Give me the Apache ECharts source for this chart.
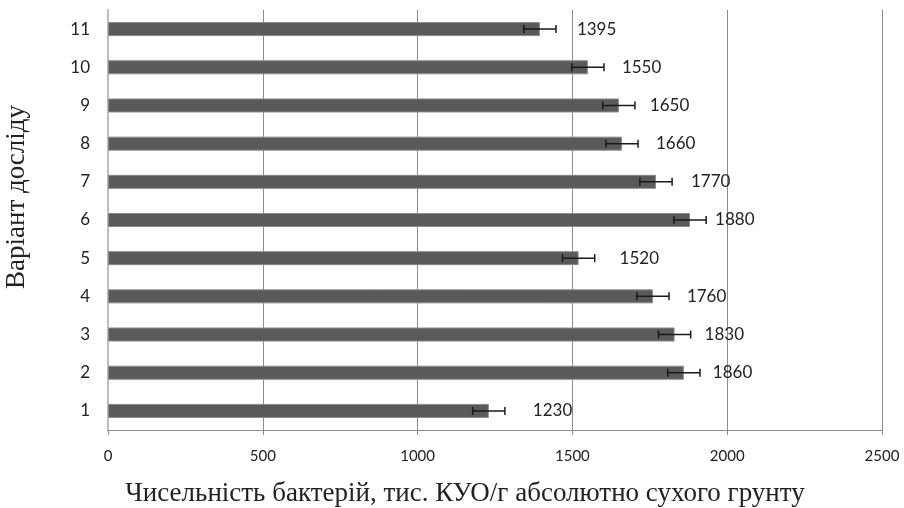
<!DOCTYPE html>
<html>
<head>
<meta charset="utf-8">
<script src="https://cdn.jsdelivr.net/npm/echarts@6/dist/echarts.min.js"></script>
<style>
  html, body { margin: 0; padding: 0; background: #fff; }
  #chart { width: 904px; height: 508px; }
</style>
</head>
<body>
<div id="chart"></div>
<script>
// Варіанти досліду (знизу вгору)
const variants = ['1', '2', '3', '4', '5', '6', '7', '8', '9', '10', '11'];
// Чисельність бактерій, тис. КУО/г
const counts = [1230, 1860, 1830, 1760, 1520, 1880, 1770, 1660, 1650, 1550, 1395];
// Похибка (±)
const errors = [52, 52, 52, 52, 52, 52, 52, 52, 52, 52, 52];
// Відступ підписів від кінця смуги, px
const labelGap = [44, 29, 30, 34, 41, 25, 35, 34, 31, 34, 37];
// Поділки осі X
const xTicks = [0, 500, 1000, 1500, 2000, 2500];

const chart = echarts.init(document.getElementById('chart'), null, { renderer: 'canvas' });

const barData = counts.map((v, i) => ({
  value: v,
  label: { distance: labelGap[i] }
}));

const errData = counts.map((v, i) => [i, v - errors[i], v + errors[i]]);

chart.setOption({
  animation: false,
  backgroundColor: '#ffffff',
  grid: {
    left: 108, right: 22, top: 10, bottom: 78,
    containLabel: false,
    outerBoundsMode: 'none'
  },
  xAxis: {
    type: 'value',
    min: xTicks[0],
    max: xTicks[xTicks.length - 1],
    interval: xTicks[1] - xTicks[0],
    name: 'Чисельність бактерій, тис. КУО/г абсолютно сухого грунту',
    nameLocation: 'middle',
    nameGap: 50,
    nameTextStyle: {
      fontFamily: 'Liberation Serif',
      fontSize: 27,
      color: '#222',
      padding: [0, 60, 0, 0]
    },
    axisLine: { show: true, lineStyle: { color: '#8c8c8c', width: 1 } },
    axisTick: { show: true, length: 5, lineStyle: { color: '#8c8c8c' } },
    axisLabel: {
      fontFamily: 'Lato', fontSize: 15, color: '#222', margin: 19,
      formatter: function (v) { return String(v); }
    },
    splitLine: { show: true, lineStyle: { color: '#8c8c8c', width: 1 } }
  },
  yAxis: {
    type: 'category',
    data: variants,
    name: 'Варіант досліду',
    nameLocation: 'middle',
    nameGap: 78,
    nameTextStyle: {
      fontFamily: 'Liberation Serif',
      fontSize: 27,
      color: '#222',
      padding: [0, 0, 0, 46]
    },
    axisLine: { show: true, lineStyle: { color: '#bdbdbd', width: 2 } },
    axisTick: { show: false },
    axisLabel: { fontFamily: 'Lato', fontSize: 17, color: '#222', margin: 18 },
    splitLine: { show: false }
  },
  series: [
    {
      type: 'bar',
      data: barData,
      barWidth: 14,
      itemStyle: { color: '#5a5a5a', borderColor: '#8a8a8a', borderWidth: 1 },
      label: {
        show: true,
        position: 'right',
        fontFamily: 'Lato',
        fontSize: 17,
        color: '#222'
      },
      z: 2
    },
    {
      type: 'custom',
      data: errData,
      z: 3,
      renderItem: function (params, api) {
        const cat = api.value(0);
        const lo = api.coord([api.value(1), cat]);
        const hi = api.coord([api.value(2), cat]);
        const y = lo[1];
        const h = 4;
        const style = { stroke: '#1a1a1a', lineWidth: 1.5 };
        return {
          type: 'group',
          children: [
            { type: 'line', shape: { x1: lo[0], y1: y, x2: hi[0], y2: y }, style: style },
            { type: 'line', shape: { x1: lo[0], y1: y - h, x2: lo[0], y2: y + h }, style: style },
            { type: 'line', shape: { x1: hi[0], y1: y - h, x2: hi[0], y2: y + h }, style: style }
          ]
        };
      }
    }
  ]
});
</script>
</body>
</html>
